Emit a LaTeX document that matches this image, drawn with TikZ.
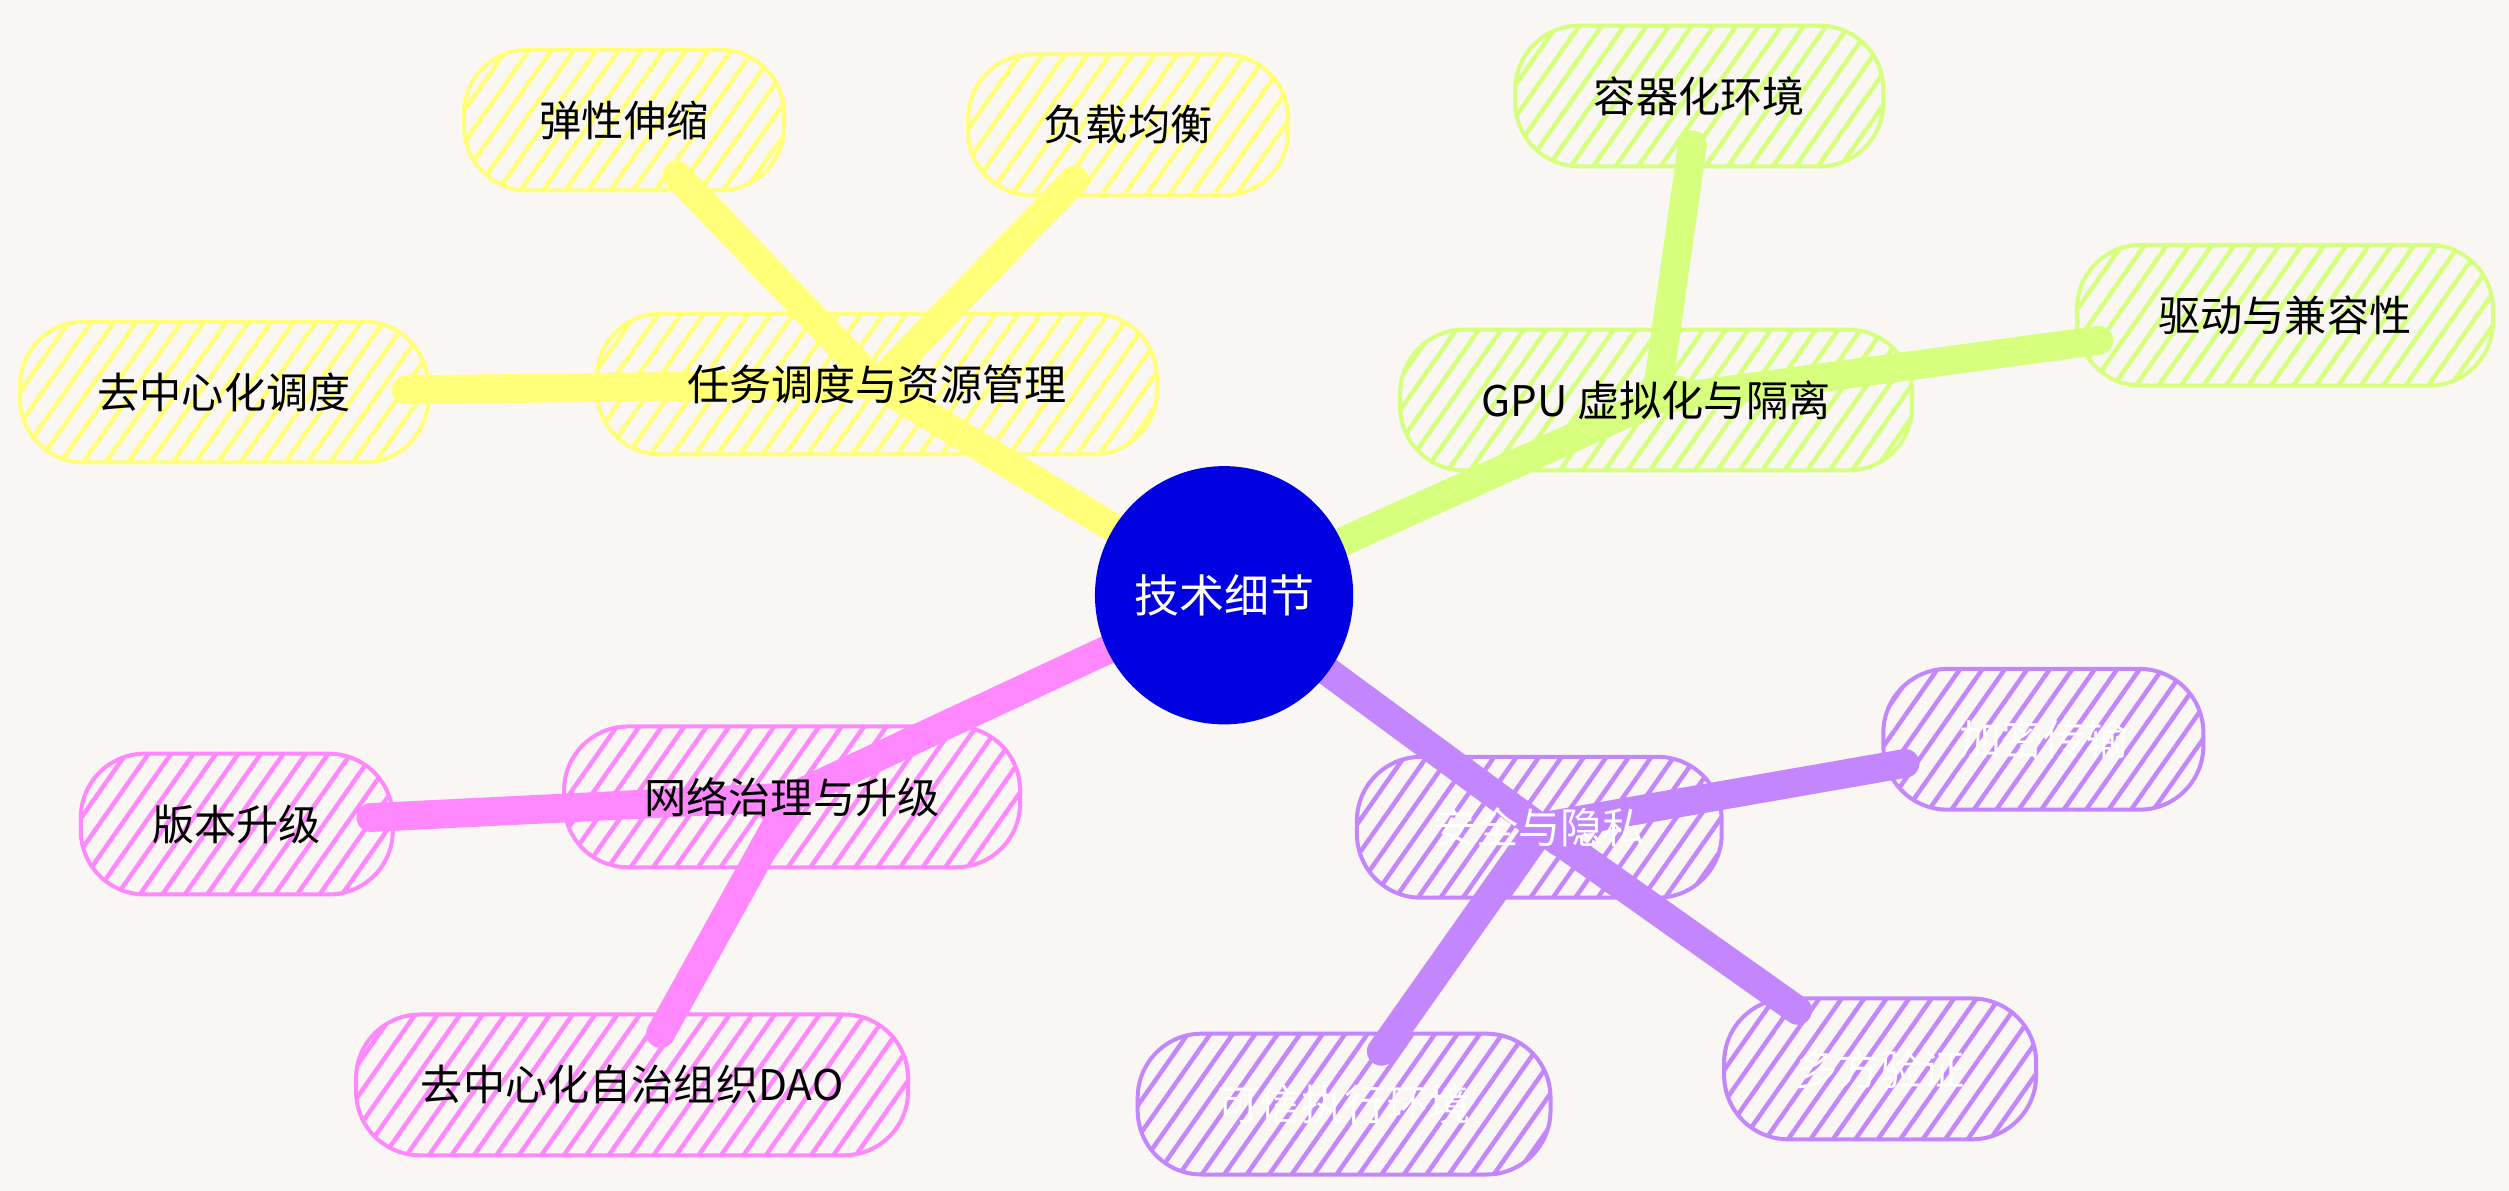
\documentclass[tikz,border=0pt]{standalone}
\usepackage{fontspec}
\setmainfont{Noto Sans CJK SC}
\usetikzlibrary{patterns.meta}
\pgfdeclarelayer{backdrop}
\pgfdeclarelayer{links}
\pgfsetlayers{backdrop,links,main}
\definecolor{bgcol}{HTML}{F9F6F3}
\definecolor{cyel}{HTML}{FFFF78}
\definecolor{cgrn}{HTML}{D6FF7E}
\definecolor{cpnk}{HTML}{FF88FF}
\definecolor{cpur}{HTML}{C386FC}
\definecolor{cblu}{HTML}{0000E0}
\tikzset{
  topic/.style={draw=#1, line width=0.25mm, rounded corners=4mm, minimum height=8.8mm,
    pattern={Lines[angle=55,distance=1.15mm,line width=0.28mm]}, pattern color=#1,
    font=\fontsize{7.5}{9}\selectfont, inner sep=1mm},
  link/.style={#1, line width=1.8mm, line cap=round, shorten >=-1.5mm}
}
\begin{document}
\begin{tikzpicture}[x=0.1mm,y=-0.1mm]
  \begin{pgfonlayer}{backdrop}
    \fill[bgcol] (0,0) rectangle (1568,744);
  \end{pgfonlayer}
  \useasboundingbox (0,0) rectangle (1568,744);

  % centre
  \node[circle, draw=cblu, fill=cblu, minimum size=16mm, text=white,
    font=\fontsize{8}{9}\selectfont] (core) at (765,372) {技术细节};

  % scheduling branch
  \node[topic=cyel, minimum width=35mm] (sched) at (548,240) {任务调度与资源管理};
  \node[topic=cyel, minimum width=20mm] (elastic) at (390,75) {弹性伸缩};
  \node[topic=cyel, minimum width=20mm] (balance) at (705,78) {负载均衡};
  \node[topic=cyel, minimum width=25.5mm] (decsched) at (140,245) {去中心化调度};

  % gpu branch
  \node[topic=cgrn, minimum width=32mm] (gpu) at (1035,250) {GPU 虚拟化与隔离};
  \node[topic=cgrn, minimum width=23mm] (container) at (1062,60) {容器化环境};
  \node[topic=cgrn, minimum width=26mm] (driver) at (1428,197) {驱动与兼容性};

  % governance branch
  \node[topic=cpnk, minimum width=28.5mm] (gov) at (495,498) {网络治理与升级};
  \node[topic=cpnk, minimum width=19.5mm] (version) at (148,515) {版本升级};
  \node[topic=cpnk, minimum width=34.5mm] (dao) at (395,678) {去中心化自治组织DAO};

  % security branch
  \node[topic=cpur, minimum width=22.8mm, text=white] (secure) at (962,517) {安全与隐私};
  \node[topic=cpur, minimum width=20mm, text=white] (crypt) at (1277,462) {加密传输};
  \node[topic=cpur, minimum width=19.5mm, text=white] (multi) at (1175,668) {多方验证};
  \node[topic=cpur, minimum width=25.8mm, text=white] (tee) at (840,690) {可信执行环境};

  \begin{pgfonlayer}{links}
    \draw[link=cyel] (core) -- (sched.center);
    \draw[link=cyel] (sched.center) -- (elastic);
    \draw[link=cyel] (sched.center) -- (balance);
    \draw[link=cyel] (sched.center) -- (decsched);
    \draw[link=cgrn] (core) -- (gpu.center);
    \draw[link=cgrn] (gpu.center) -- (container);
    \draw[link=cgrn] (gpu.center) -- (driver);
    \draw[link=cpnk] (core) -- (gov.center);
    \draw[link=cpnk] (gov.center) -- (version);
    \draw[link=cpnk] (gov.center) -- (dao);
    \draw[link=cpur] (core) -- (secure.center);
    \draw[link=cpur] (secure.center) -- (crypt);
    \draw[link=cpur] (secure.center) -- (multi);
    \draw[link=cpur] (secure.center) -- (tee);
  \end{pgfonlayer}
\end{tikzpicture}
\end{document}
